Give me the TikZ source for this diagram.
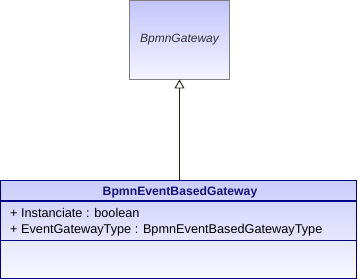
\documentclass[tikz,border=0pt]{standalone}
\usepackage{fontspec}
\setmainfont{Liberation Sans}
\usetikzlibrary{arrows.meta}
\definecolor{umlnavy}{RGB}{0,0,128}
\definecolor{umlgrey}{RGB}{128,128,128}
\definecolor{lavtop}{RGB}{196,196,252}
\definecolor{lavbot}{RGB}{244,244,255}
\definecolor{clstop}{RGB}{204,204,252}
\definecolor{clsbot}{RGB}{248,248,255}
\definecolor{titlecol}{RGB}{20,20,120}
\definecolor{linkcol}{RGB}{40,30,20}
\tikzset{
  abstractbox/.style={draw=umlgrey, line width=1.2pt, top color=lavtop, bottom color=lavbot},
  classbox/.style={draw=umlnavy, line width=1.2pt, top color=clstop, bottom color=clsbot},
  sepline/.style={draw=umlnavy, line width=1pt},
  attr/.style={anchor=base west, inner sep=0pt, font=\fontsize{12.7}{15}\selectfont},
  generalization/.style={draw=linkcol, line width=0.9pt, -{Triangle[open, length=9pt, width=10pt]}}
}
\begin{document}
\begin{tikzpicture}[x=1pt, y=-1pt]
  \useasboundingbox (0,0) rectangle (358,280);
  % abstract parent class
  \path[abstractbox] (129.5,0.6) rectangle (229.5,79.5);
  \node[inner sep=0pt, font=\fontsize{12}{14}\selectfont\itshape, text=black!80] (parent) at (179.5,40) {BpmnGateway};
  \coordinate (parentbottom) at (179.5,79.5);
  % concrete class
  \path[classbox] (0.6,180.5) rectangle (356.5,278.5);
  \draw[sepline] (0.6,201) -- (356.5,201);
  \draw[sepline] (0.6,240) -- (356.5,240);
  \node[inner sep=0pt, anchor=base, font=\fontsize{12.2}{14}\selectfont\bfseries, text=titlecol] (child) at (180,196) {BpmnEventBasedGateway};
  \coordinate (childtop) at (179.5,180.5);
  \node[attr] (a1) at (10,217) {+ Instanciate : boolean};
  \node[attr] (a2) at (10,233) {+ EventGatewayType : BpmnEventBasedGatewayType};
  % generalization
  \draw[generalization] (childtop) -- (parentbottom);
\end{tikzpicture}
\end{document}
